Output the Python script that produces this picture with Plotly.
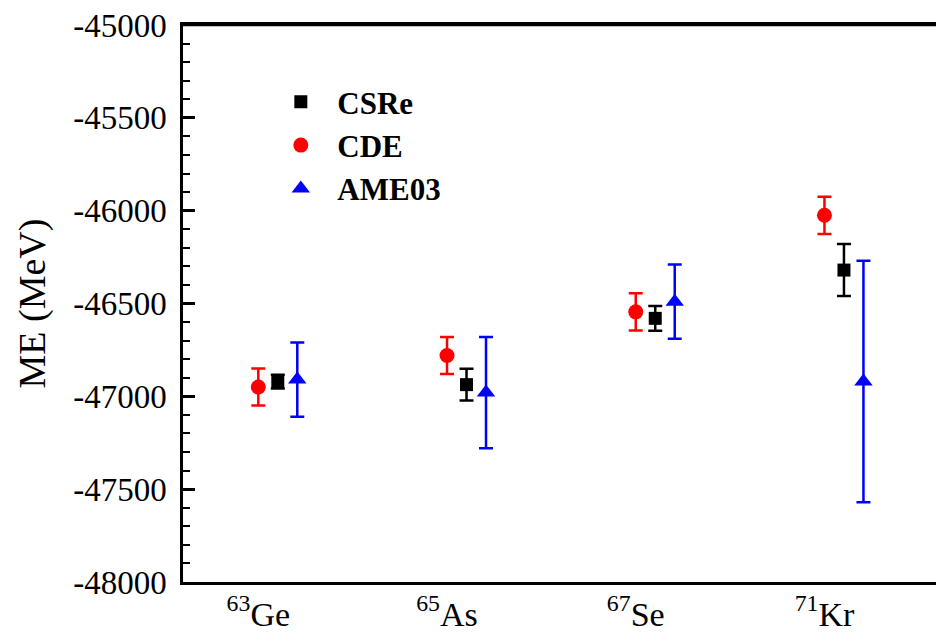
import plotly.graph_objects as go

# ---- data ----
nuclides = ["<sup>63</sup>Ge", "<sup>65</sup>As", "<sup>67</sup>Se", "<sup>71</sup>Kr"]
csre_me = [-46921, -46937, -46580, -46320]
csre_err = [37, 85, 67, 140]
cde_me = [-46950, -46780, -46545, -46025]
cde_err = [100, 100, 100, 100]
ame_me = [-46910, -46980, -46490, -46920]
ame_err = [200, 300, 200, 650]
y_tickvals = [-48000, -47500, -47000, -46500, -46000, -45500, -45000]
y_ticktext = ["-48000", "-47500", "-47000", "-46500", "-46000", "-45500", "-45000"]

# ---- layout helpers ----
pos = list(range(1, len(nuclides) + 1))
shift = 0.1033
font_family = "Liberation Serif, Times New Roman, serif"

fig = go.Figure()

fig.add_trace(go.Scatter(
    x=[p + shift for p in pos], y=csre_me, name="CSRe", mode="markers",
    marker=dict(symbol="square", size=13, color="black"),
    error_y=dict(type="data", array=csre_err, visible=True, color="black",
                 thickness=2.5, width=7),
))
fig.add_trace(go.Scatter(
    x=pos, y=cde_me, name="CDE", mode="markers",
    marker=dict(symbol="circle", size=15, color="#ff0000"),
    error_y=dict(type="data", array=cde_err, visible=True, color="#ff0000",
                 thickness=2.5, width=7),
))
fig.add_trace(go.Scatter(
    x=[p + 2 * shift for p in pos], y=ame_me, name="AME03", mode="markers",
    marker=dict(symbol="triangle-up", size=16, color="#0000ff"),
    error_y=dict(type="data", array=ame_err, visible=True, color="#0000ff",
                 thickness=2.5, width=7),
))

fig.update_layout(
    width=936, height=632,
    margin=dict(l=183, r=0, t=25, b=50, autoexpand=False),
    paper_bgcolor="white", plot_bgcolor="white",
    font=dict(family=font_family, color="black"),
    showlegend=True,
    legend=dict(
        x=0.108, y=0.91, xanchor="left", yanchor="top",
        font=dict(family=font_family, size=31, color="black", weight="bold"),
        bgcolor="rgba(0,0,0,0)", borderwidth=0, tracegroupgap=0,
        itemwidth=63,
    ),
    shapes=[dict(type="line", xref="paper", yref="paper", x0=0, x1=1, y0=1, y1=1,
                 line=dict(color="black", width=2.5), layer="above")],
)
fig.update_xaxes(
    range=[0.601, 4.591], automargin=False,
    tickmode="array", tickvals=pos, ticktext=nuclides,
    ticks="", showgrid=False, zeroline=False,
    showline=True, linewidth=2.5, linecolor="black", mirror=True,
    tickfont=dict(family=font_family, size=34, color="black"),
)
fig.update_yaxes(
    range=[-48000, -45000], automargin=False,
    tickmode="array", tickvals=y_tickvals, ticktext=y_ticktext,
    ticks="inside", ticklen=12, tickwidth=2.5, tickcolor="black",
    ticklabelstandoff=7,
    minor=dict(dtick=100, ticks="inside", ticklen=7, tickwidth=2, tickcolor="black"),
    showgrid=False, zeroline=False,
    showline=True, linewidth=2.5, linecolor="black",
    tickfont=dict(family=font_family, size=33, color="black"),
    title=dict(text="ME (MeV)", font=dict(family=font_family, size=38, color="black"), standoff=16),
)

# remove the default page margin so the figure sits at the window's corner
fig.write_html(
    "out.html",
    config={"displayModeBar": False},
    post_script="document.body.style.margin='0';document.body.style.overflow='hidden';",
)
